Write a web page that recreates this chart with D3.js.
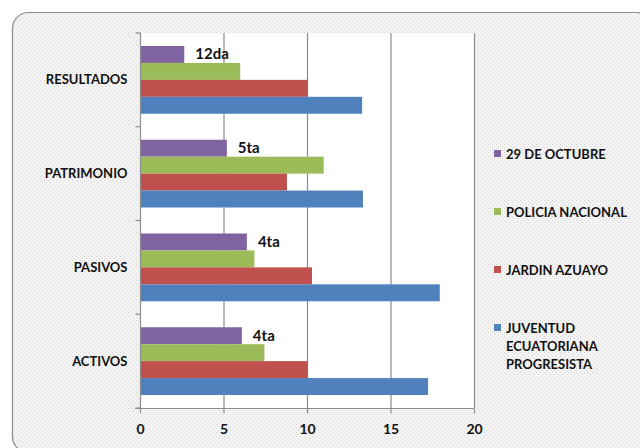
<!DOCTYPE html>
<html>
<head>
<meta charset="utf-8">
<script src="https://cdn.jsdelivr.net/npm/d3@7"></script>
<style>
  body { margin: 0; background: #fff; }
  text { font-family: Lato, "Open Sans", sans-serif; font-weight: bold; fill: #111; }
</style>
</head>
<body>
<div id="chart"></div>
<script>
const width = 640, height = 448;

// data, bottom to top as in the picture
var categories = ["ACTIVOS", "PASIVOS", "PATRIMONIO", "RESULTADOS"];
var seriesNames = ["29 DE OCTUBRE", "POLICIA NACIONAL", "JARDIN AZUAYO", "JUVENTUD ECUATORIANA PROGRESISTA"];
var octubre = [6.1, 6.4, 5.2, 2.65];
var policia = [7.45, 6.85, 11.0, 6.0];
var jardin = [10.05, 10.3, 8.8, 10.05];
var juventud = [17.25, 17.95, 13.35, 13.3];
var rankLabels = ["4ta", "4ta", "5ta", "12da"];
var xTicks = [0, 5, 10, 15, 20];
var colors = ["#8064A2", "#9BBB59", "#C0504D", "#4F81BD"];

var seriesValues = [octubre, policia, jardin, juventud];

var svg = d3.select("#chart").append("svg")
    .attr("width", width)
    .attr("height", height);

// dotted background pattern
var defs = svg.append("defs");
var pat = defs.append("pattern")
    .attr("id", "dots")
    .attr("width", 4).attr("height", 4)
    .attr("patternUnits", "userSpaceOnUse");
pat.append("rect").attr("width", 4).attr("height", 4).attr("fill", "#f4f4f4");
pat.append("rect").attr("x", 0).attr("y", 0).attr("width", 1).attr("height", 1).attr("fill", "#d4d4d4");
pat.append("rect").attr("x", 2).attr("y", 2).attr("width", 1).attr("height", 1).attr("fill", "#d4d4d4");

svg.append("rect")
    .attr("x", 12.5).attr("y", 12.5)
    .attr("width", 640).attr("height", 440)
    .attr("rx", 16)
    .attr("fill", "url(#dots)")
    .attr("stroke", "#8a8a8a")
    .attr("stroke-width", 1.2);

var plot = { left: 140, right: 474, top: 33, bottom: 408 };

var x = d3.scaleLinear().domain([0, 20]).range([plot.left, plot.right]);
var y = d3.scaleBand().domain(categories.slice().reverse())
    .range([plot.top, plot.bottom]);
var inner = d3.scaleBand().domain(d3.range(seriesNames.length))
    .range([13, y.bandwidth() - 13]);

svg.append("rect")
    .attr("x", plot.left).attr("y", plot.top)
    .attr("width", plot.right - plot.left).attr("height", plot.bottom - plot.top)
    .attr("fill", "#fff");

// gridlines
svg.append("g")
    .selectAll("line")
    .data(xTicks.slice(1))
    .join("line")
    .attr("x1", d => x(d) + 0.5).attr("x2", d => x(d) + 0.5)
    .attr("y1", plot.top).attr("y2", plot.bottom)
    .attr("stroke", "#8c8c8c")
    .attr("stroke-width", 1.2);

// bars
var rows = [];
categories.forEach(function (c, i) {
    seriesValues.forEach(function (vals, s) {
        rows.push({ cat: c, s: s, v: vals[i] });
    });
});

svg.append("g")
    .selectAll("rect")
    .data(rows)
    .join("rect")
    .attr("x", plot.left)
    .attr("y", d => y(d.cat) + inner(d.s))
    .attr("width", d => x(d.v) - x(0))
    .attr("height", inner.bandwidth())
    .attr("fill", d => colors[d.s]);

// rank labels next to the purple bar
svg.append("g")
    .selectAll("text")
    .data(categories)
    .join("text")
    .attr("x", (d, i) => x(octubre[i]) + 11)
    .attr("y", d => y(d) + inner(0) + inner.bandwidth() / 2 + 5)
    .attr("font-size", 15)
    .text((d, i) => rankLabels[i]);

// axes
var xAxis = svg.append("g")
    .attr("transform", "translate(0," + (plot.bottom + 0.5) + ")")
    .call(d3.axisBottom(x).tickValues(xTicks).tickSize(5).tickPadding(11));
xAxis.select(".domain").attr("stroke", "#8c8c8c").attr("stroke-width", 1.2)
    .attr("d", "M" + (plot.left - 5) + ",0H" + plot.right);
xAxis.selectAll(".tick line").attr("stroke", "#8c8c8c").attr("stroke-width", 1.2);
xAxis.selectAll(".tick text").attr("font-size", 14).attr("fill", "#111")
    .style("font-family", "Lato, sans-serif").style("font-weight", "bold");

var yAxis = svg.append("g")
    .attr("transform", "translate(" + (plot.left + 0.5) + ",0)");
yAxis.append("line")
    .attr("x1", 0).attr("x2", 0)
    .attr("y1", plot.top).attr("y2", plot.bottom)
    .attr("stroke", "#8c8c8c").attr("stroke-width", 1.2);
yAxis.selectAll(".tk")
    .data(y.domain().concat(["end"]))
    .join("line")
    .attr("class", "tk")
    .attr("x1", -5).attr("x2", 0)
    .attr("y1", d => d === "end" ? plot.bottom : y(d))
    .attr("y2", d => d === "end" ? plot.bottom : y(d))
    .attr("stroke", "#8c8c8c").attr("stroke-width", 1.2);
yAxis.selectAll("text")
    .data(categories)
    .join("text")
    .attr("x", -13)
    .attr("y", d => y(d) + y.bandwidth() / 2 + 4.5)
    .attr("text-anchor", "end")
    .attr("font-size", 13)
    .text(d => d);

// legend, top to bottom in series order
var legendLines = [["29 DE OCTUBRE"], ["POLICIA NACIONAL"], ["JARDIN AZUAYO"], ["JUVENTUD", "ECUATORIANA", "PROGRESISTA"]];
var legendY = [154, 212, 270, 328];
var legend = svg.append("g");
legendLines.forEach(function (lines, i) {
    legend.append("rect")
        .attr("x", 494).attr("y", legendY[i] - 4)
        .attr("width", 7).attr("height", 7)
        .attr("fill", colors[i]);
    var t = legend.append("text")
        .attr("x", 506).attr("y", legendY[i] + 5)
        .attr("font-size", 13);
    lines.forEach(function (l, j) {
        t.append("tspan").attr("x", 506).attr("dy", j === 0 ? 0 : 18).text(l);
    });
});
</script>
</body>
</html>
